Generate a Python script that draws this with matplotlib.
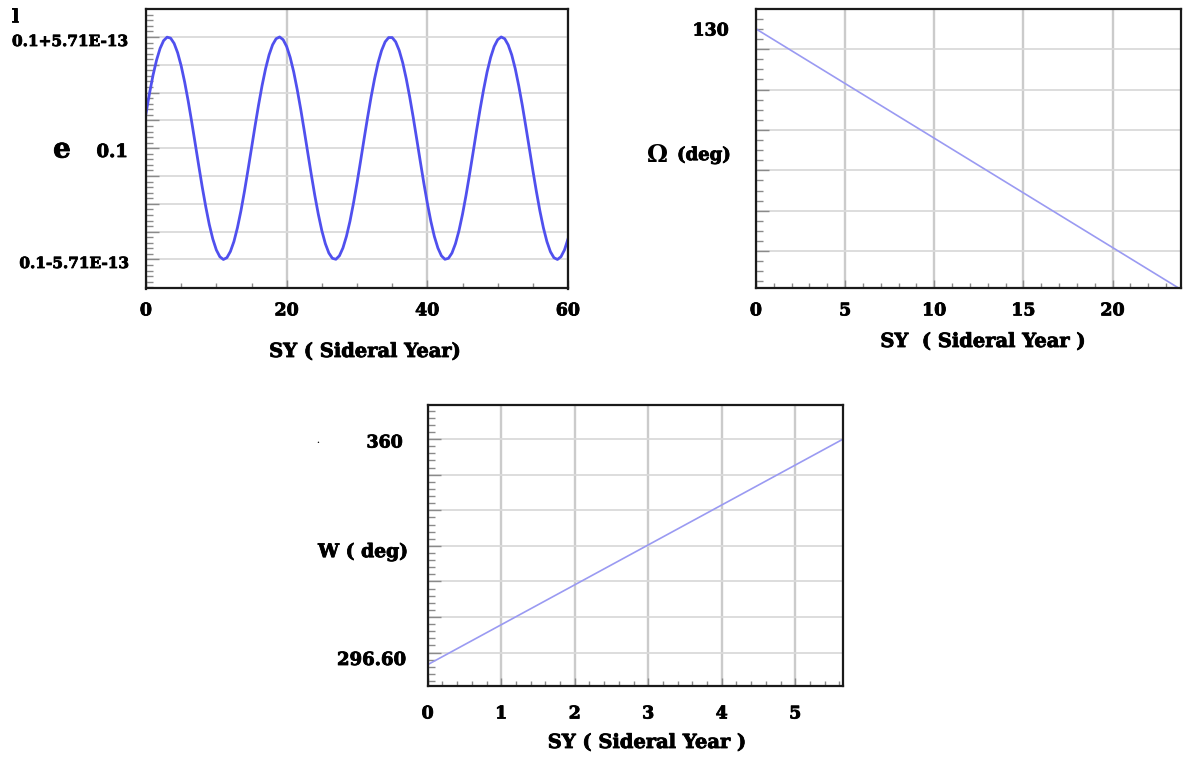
import numpy as np
import matplotlib
matplotlib.use("Agg")
import matplotlib.pyplot as plt
import matplotlib.patheffects as pe
from matplotlib.ticker import MultipleLocator, FixedLocator, NullFormatter

# ---------------- data ----------------
# eccentricity e versus time; values are (e - 0.1) in units of 1E-13,
# read every half sidereal year
sy_e = np.arange(0, 121) * 0.5
e_dev_e13 = [1.79, 2.82, 3.75, 4.52, 5.12, 5.52, 5.70, 5.65, 5.38, 4.90,
             4.23, 3.39, 2.42, 1.35, 0.23, -0.90, -2.00, -3.01, -3.92, -4.66,
             -5.22, -5.57, -5.71, -5.62, -5.30, -4.79, -4.08, -3.21, -2.21, -1.12,
             0.00, 1.13, 2.21, 3.21, 4.08, 4.79, 5.31, 5.62, 5.71, 5.57,
             5.22, 4.66, 3.92, 3.01, 2.00, 0.90, -0.23, -1.35, -2.42, -3.39,
             -4.23, -4.90, -5.38, -5.65, -5.70, -5.52, -5.12, -4.52, -3.75, -2.82,
             -1.79, -0.68, 0.46, 1.57, 2.62, 3.57, 4.39, 5.02, 5.46, 5.68,
             5.68, 5.46, 5.02, 4.39, 3.57, 2.62, 1.57, 0.45, -0.68, -1.79,
             -2.82, -3.75, -4.53, -5.12, -5.52, -5.70, -5.65, -5.38, -4.90, -4.23,
             -3.39, -2.42, -1.35, -0.23, 0.91, 2.00, 3.01, 3.92, 4.66, 5.22,
             5.57, 5.71, 5.62, 5.30, 4.79, 4.08, 3.20, 2.21, 1.12, 0.00,
             -1.13, -2.21, -3.21, -4.08, -4.79, -5.31, -5.62, -5.71, -5.57, -5.22,
             -4.66]
e_amp_e13 = 5.71

# longitude of ascending node Omega (deg)
omega_sy = [0.0, 23.84]
omega_deg = [130.0, 1.0]

# argument of perigee W (deg)
w_sy = [0.0, 5.65]
w_deg = [296.60, 360.0]

e_xticks = [0, 20, 40, 60]
omega_xticks = [0, 5, 10, 15, 20]
w_xticks = [0, 1, 2, 3, 4, 5]

# ---------------- figure ----------------
W, H = 1184, 759
fig = plt.figure(figsize=(W / 100, H / 100), dpi=100)
FONT = "DejaVu Serif"
THICK = [pe.withStroke(linewidth=0.6, foreground="black")]


def px(x, y):
    return x / W, 1 - y / H


def add_axes(l, t, r, b):
    return fig.add_axes([l / W, 1 - b / H, (r - l) / W, (b - t) / H])


def style(ax, xmajor, xminor, ymajor, yminor, pad):
    ax.xaxis.set_major_locator(FixedLocator(xmajor))
    ax.xaxis.set_minor_locator(MultipleLocator(xminor))
    ax.yaxis.set_major_locator(FixedLocator(ymajor))
    ax.yaxis.set_minor_locator(MultipleLocator(yminor))
    ax.yaxis.set_major_formatter(NullFormatter())
    ax.xaxis.grid(True, which="major", color="#cbcbcb", lw=1.7)
    ax.yaxis.grid(True, which="major", color="#dadada", lw=1.3)
    ax.set_axisbelow(True)
    ax.tick_params(which="both", direction="in", color="#8a8a8a", width=1.0)
    ax.tick_params(axis="y", which="major", length=9)
    ax.tick_params(axis="y", which="minor", length=5)
    ax.tick_params(axis="x", which="major", length=6, pad=pad)
    ax.tick_params(axis="x", which="minor", length=3.5)
    for s in ax.spines.values():
        s.set_linewidth(1.6)
        s.set_color("#1a1a1a")


def xlabels(ax, ticks):
    ax.set_xticklabels([str(v) for v in ticks], fontfamily=FONT,
                       fontweight="bold", fontsize=12.5)
    for lab in ax.get_xticklabels():
        lab.set_path_effects(THICK)


# ---- top-left: e ----
ax1 = add_axes(146, 9.3, 568, 288.5)
ax1.plot(sy_e, e_dev_e13, color="#5050ee", lw=2.0, solid_joinstyle="round")
ax1.set_xlim(0, 60)
ax1.set_ylim(-7.2, 7.13)
style(ax1, e_xticks, 5, [e_amp_e13 * k / 4 for k in range(-4, 5)],
      e_amp_e13 / 20, 10)
xlabels(ax1, e_xticks)

# ---- top-right: Omega ----
ax2 = add_axes(756, 9.3, 1181, 288.5)
ax2.plot(omega_sy, omega_deg, color="#9a9af2", lw=1.2)
ax2.set_xlim(0, 23.84)
ax2.set_ylim(1.5, 139.7)
style(ax2, omega_xticks, 1, list(range(20, 140, 20)), 5, 10)
xlabels(ax2, omega_xticks)

# ---- bottom: W ----
ax3 = add_axes(427.7, 405, 843, 686)
ax3.plot(w_sy, w_deg, color="#9a9af2", lw=1.2)
ax3.set_xlim(0, 5.65)
ax3.set_ylim(290.6, 369.6)
style(ax3, w_xticks, 0.2, list(range(300, 370, 10)), 2, 14)
xlabels(ax3, w_xticks)


# ---------------- texts ----------------
def txt(x, y, s, size=12, ha="center", va="center", thick=True):
    t = fig.text(*px(x, y), s, fontsize=size, ha=ha, va=va, fontfamily=FONT,
                 fontweight="bold")
    if thick:
        t.set_path_effects(THICK)
    return t


# top-left labels
txt(15, 17, "l", 13)
txt(128, 42, "0.1+5.71E-13", 11, ha="right")
txt(128, 152, "0.1", 13, ha="right")
txt(129, 264, "0.1-5.71E-13", 11, ha="right")
txt(62, 150, "e", 20)
txt(365, 352, "SY ( Sideral Year)", 14)

# top-right labels
txt(729, 31, "130", 12.5, ha="right")
txt(658, 155, "\u03a9", 17, thick=False)
txt(677, 155, "(deg)", 13, ha="left")
txt(983, 342, "SY  ( Sideral Year )", 14)

# bottom labels
txt(318, 441, ".", 6, thick=False)
txt(403, 443, "360", 12.5, ha="right")
txt(363, 552, "W ( deg)", 13.5)
txt(406, 660, "296.60", 13, ha="right")
txt(647, 743, "SY ( Sideral Year )", 14)

fig.savefig("out.png", dpi=100, facecolor="white")
